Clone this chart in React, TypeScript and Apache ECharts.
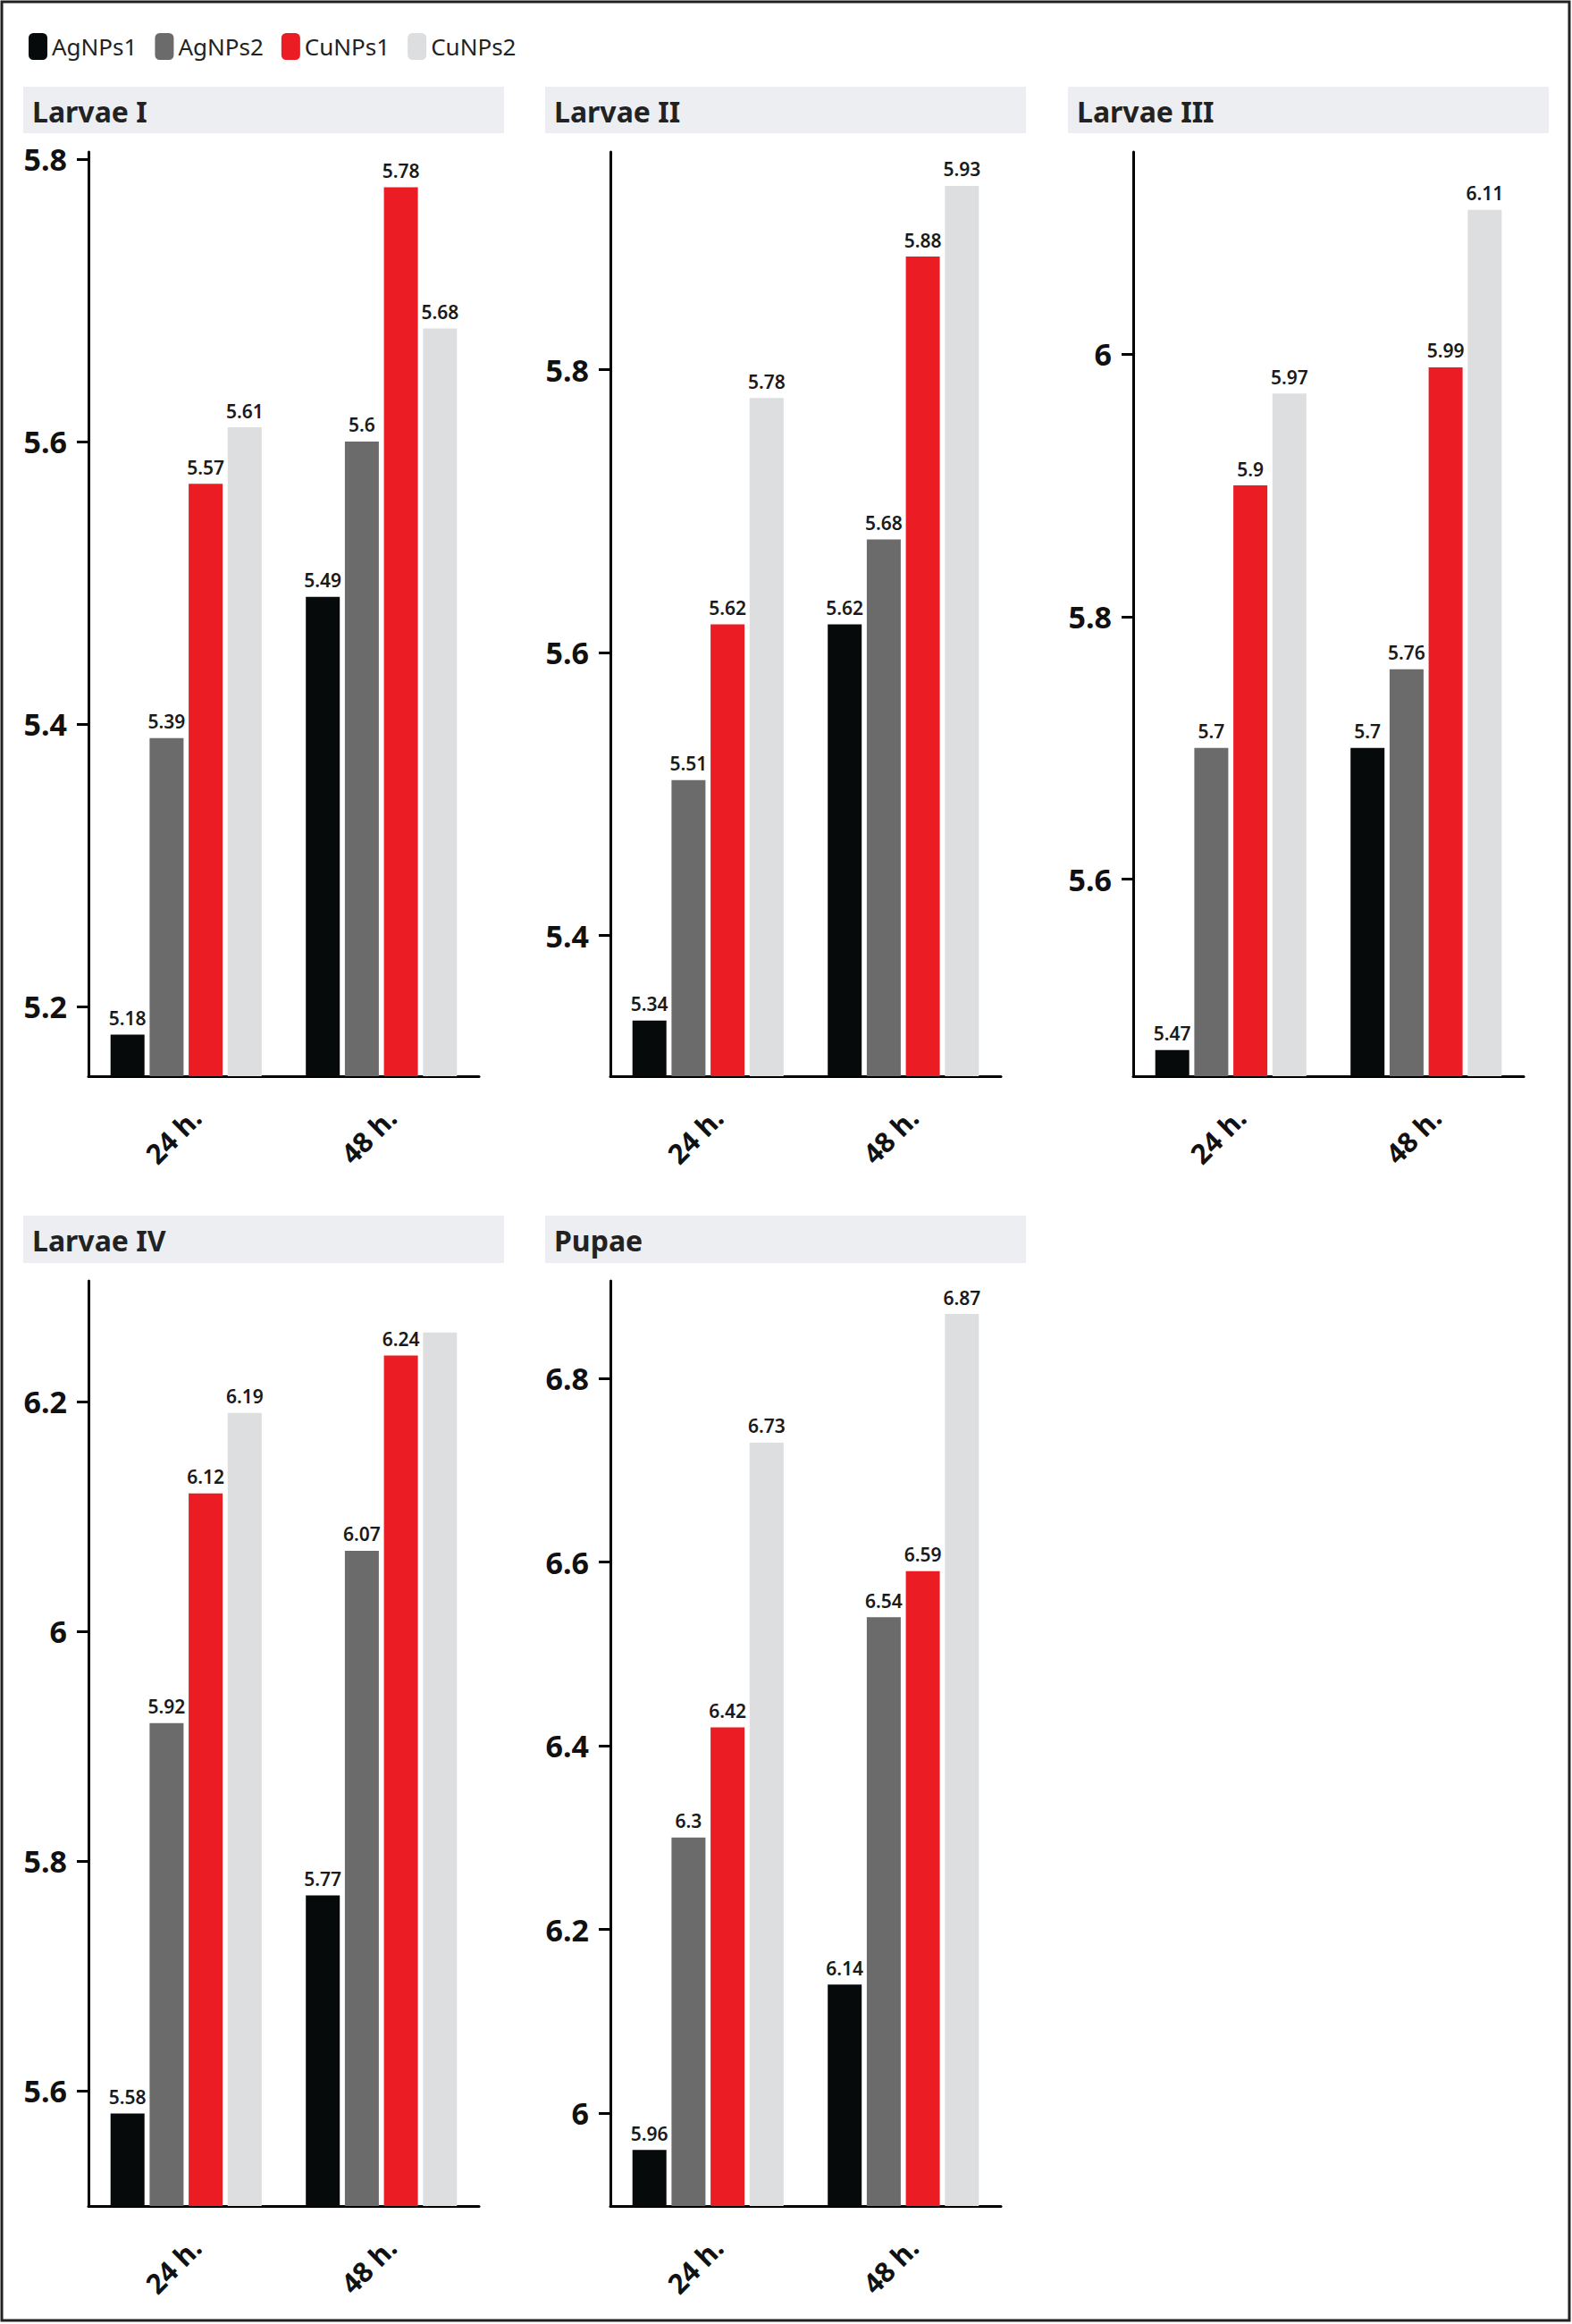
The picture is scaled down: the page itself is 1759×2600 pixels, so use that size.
import * as echarts from "echarts";
import { useEffect, useRef } from "react";

// 数据
const categories = ["24 h.", "48 h."];
const seriesNames = ["AgNPs1", "AgNPs2", "CuNPs1", "CuNPs2"];
const panelTitles = ["Larvae I", "Larvae II", "Larvae III", "Larvae IV", "Pupae"];

// each row: one series, [24 h., 48 h.]
const larvaeI = [[5.18, 5.49], [5.39, 5.6], [5.57, 5.78], [5.61, 5.68]];
const larvaeII = [[5.34, 5.62], [5.51, 5.68], [5.62, 5.88], [5.78, 5.93]];
const larvaeIII = [[5.47, 5.7], [5.7, 5.76], [5.9, 5.99], [5.97, 6.11]];
const larvaeIV = [[5.58, 5.77], [5.92, 6.07], [6.12, 6.24], [6.19, 6.26]];
const pupae = [[5.96, 6.14], [6.3, 6.54], [6.42, 6.59], [6.73, 6.87]];

const yTicksI = [5.2, 5.4, 5.6, 5.8];
const yTicksII = [5.4, 5.6, 5.8];
const yTicksIII = [5.6, 5.8, 6];
const yTicksIV = [5.6, 5.8, 6, 6.2];
const yTicksPupae = [6, 6.2, 6.4, 6.6, 6.8];

const yRangeI = [5.1506, 5.805];
const yRangeII = [5.3006, 5.954];
const yRangeIII = [5.45, 6.154];
const yRangeIV = [5.4995, 6.305];
const yRangePupae = [5.899, 6.906];

// the 48 h. CuNPs2 bar of Larvae IV has no value label in the source
const unlabeled = { panel: 3, series: 3, index: 1 };

const panelValues = [larvaeI, larvaeII, larvaeIII, larvaeIV, pupae];
const panelTicks = [yTicksI, yTicksII, yTicksIII, yTicksIV, yTicksPupae];
const panelRanges = [yRangeI, yRangeII, yRangeIII, yRangeIV, yRangePupae];

const colors = ["#060a0b", "#6b6b6b", "#ec1c24", "#dcdee0"];
const FONT = "'Noto Sans', 'DejaVu Sans', sans-serif";

// 布局
const colX = [26, 610, 1195];
const stripY = [97, 1360];
const gridTop = [170, 1433];
const gridHeight = [1034, 1035];
const STRIP_W = 538;
const STRIP_H = 52;

function buildOption() {
  const grid: any[] = [];
  const xAxis: any[] = [];
  const yAxis: any[] = [];
  const series: any[] = [];
  const graphic: any[] = [
    {
      type: "rect",
      shape: { x: 2, y: 2, width: 1754, height: 2594 },
      style: { fill: "none", stroke: "#222", lineWidth: 3 },
      silent: true,
    },
  ];

  panelValues.forEach((values, i) => {
    const row = Math.floor(i / 3);
    const col = i % 3;
    const sx = colX[col];

    graphic.push({
      type: "rect",
      shape: { x: sx, y: stripY[row], width: STRIP_W, height: STRIP_H + row },
      style: { fill: "#eceef1" },
      silent: true,
    });
    graphic.push({
      type: "text",
      x: sx + 10,
      y: stripY[row] + 27,
      style: {
        text: panelTitles[i],
        fontSize: 32,
        fontWeight: "bold",
        fontFamily: FONT,
        fill: "#222",
        verticalAlign: "middle",
      },
      silent: true,
    });

    grid.push({
      left: sx + 73,
      top: gridTop[row],
      width: 437,
      height: gridHeight[row],
    });

    xAxis.push({
      type: "category",
      gridIndex: i,
      data: categories,
      axisLine: { lineStyle: { color: "#000", width: 3 } },
      axisTick: { alignWithLabel: true, length: 16, lineStyle: { color: "#000", width: 3 } },
      axisLabel: {
        rotate: 45,
        fontSize: 31,
        fontWeight: "bold",
        fontFamily: FONT,
        color: "#111",
        verticalAlign: "top",
        margin: 30,
      },
    });

    yAxis.push({
      type: "value",
      gridIndex: i,
      min: panelRanges[i][0],
      max: panelRanges[i][1],
      splitLine: { show: false },
      axisLine: { show: true, lineStyle: { color: "#000", width: 3 } },
      axisTick: {
        show: true,
        length: 13,
        lineStyle: { color: "#000", width: 3 },
        customValues: panelTicks[i],
      },
      axisLabel: {
        fontSize: 34,
        fontWeight: "bold",
        fontFamily: FONT,
        color: "#111",
        margin: 24,
        customValues: panelTicks[i],
      },
    });

    values.forEach((vals, s) => {
      series.push({
        type: "bar",
        name: seriesNames[s],
        xAxisIndex: i,
        yAxisIndex: i,
        barWidth: 38,
        barGap: "15%",
        itemStyle: { color: colors[s] },
        label: {
          show: true,
          position: "top",
          distance: 8,
          fontSize: 21,
          fontWeight: 600,
          fontFamily: FONT,
          color: "#1a1a1a",
          textBorderColor: "#fff",
          textBorderWidth: 4,
          formatter: (p: any) =>
            i === unlabeled.panel && s === unlabeled.series && p.dataIndex === unlabeled.index
              ? ""
              : String(p.value),
        },
        data: vals,
      });
    });
  });

  return {
    animation: false,
    backgroundColor: "#fff",
    textStyle: { fontFamily: FONT },
    legend: {
      data: seriesNames,
      left: 27,
      top: 32,
      icon: "roundRect",
      itemWidth: 21,
      itemHeight: 30,
      itemGap: 20,
      textStyle: { fontSize: 26, color: "#222", fontFamily: FONT },
    },
    grid,
    xAxis,
    yAxis,
    series,
    graphic,
  };
}

export default function App() {
  const chartRef = useRef<HTMLDivElement | null>(null);

  useEffect(() => {
    if (!chartRef.current) return;
    const chart = echarts.init(chartRef.current, null, { renderer: "svg" });
    chart.setOption(buildOption());
    return () => {
      chart.dispose();
    };
  }, []);

  return (
    <div
      ref={chartRef}
      style={{ position: "absolute", left: 0, top: 0, width: 1759, height: 2600, background: "#fff" }}
    />
  );
}
